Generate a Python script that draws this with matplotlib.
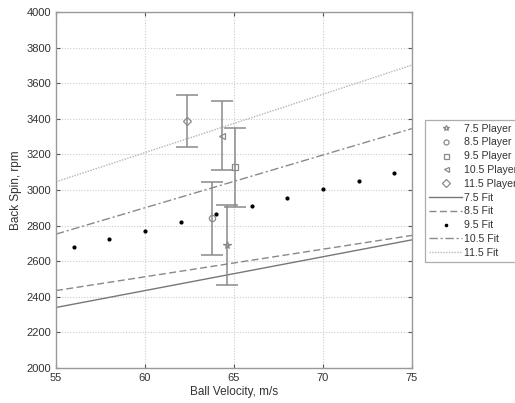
import numpy as np
import matplotlib.pyplot as plt

plt.rcParams["font.family"] = ["Liberation Sans", "DejaVu Sans"]

# player means with error bars (ball velocity m/s, back spin rpm, half error)
player_labels = ["7.5 Player", "8.5 Player", "9.5 Player", "10.5 Player", "11.5 Player"]
player_markers = ["*", "o", "s", "<", "D"]
player_vel = [64.62, 63.78, 65.04, 64.34, 62.34]
player_spin = [2690, 2840, 3127, 3305, 3388]
player_err = [225, 205, 220, 195, 145]

# fit lines, end points at 55 and 75 m/s
fit_x = [55, 75]
fit_7_5 = [2340, 2720]
fit_8_5 = [2435, 2745]
fit_10_5 = [2752, 3345]
fit_11_5 = [3046, 3702]

# 9.5 fit drawn as dots
fit95_x = [56, 58, 60, 62, 64, 66, 68, 70, 72, 74]
fit95_y = [2681, 2727, 2772, 2818, 2863, 2910, 2957, 3003, 3049, 3094]

fig = plt.figure(figsize=(5.15, 4.03), dpi=100)
ax = fig.add_axes([56 / 515, 1 - 368 / 403, 356 / 515, 356 / 403])

grey = "#8a8a8a"
handles = []
for lab, mk, x, y, e in zip(player_labels, player_markers, player_vel, player_spin, player_err):
    ax.errorbar(x, y, yerr=e, fmt="none", ecolor=grey, elinewidth=1.1,
                capsize=8, capthick=1.1, zorder=3)
    size = 4.5 if mk != "*" else 5.5
    h, = ax.plot(x, y, linestyle="none", marker=mk, markersize=size,
                 markerfacecolor="none", markeredgecolor=grey,
                 markeredgewidth=0.9, label=lab, zorder=4)
    handles.append(h)

h1, = ax.plot(fit_x, fit_7_5, color="#777777", lw=1.0, label="7.5 Fit")
h2, = ax.plot(fit_x, fit_8_5, color="#888888", lw=1.0, linestyle=(0, (5, 2.5)), label="8.5 Fit")
h3, = ax.plot(fit95_x, fit95_y, linestyle="none", marker="o", markersize=2.0,
              color="black", label="9.5 Fit")
h4, = ax.plot(fit_x, fit_10_5, color="#8a8a8a", lw=1.0,
              linestyle=(0, (6, 2, 1.5, 2)), label="10.5 Fit")
h5, = ax.plot(fit_x, fit_11_5, color="#b5b5b5", lw=1.0, linestyle=(0, (1, 1)), label="11.5 Fit")
handles += [h1, h2, h3, h4, h5]

ax.set_xlim(55, 75)
ax.set_ylim(2000, 4000)
ax.set_xticks(np.arange(55, 76, 5))
ax.set_yticks(np.arange(2000, 4001, 200))
ax.grid(True, color="#cccccc", linestyle=(0, (1, 1.5)), linewidth=0.8)
ax.tick_params(direction="in", length=3, labelsize=8, colors="#555555",
               labelcolor="#333333", top=True, right=True)
for sp in ax.spines.values():
    sp.set_color("#999999")
    sp.set_linewidth(1.0)

ax.set_xlabel("Ball Velocity, m/s", fontsize=8.5, color="#333333", labelpad=2)
ax.set_ylabel("Back Spin, rpm", fontsize=8.5, color="#333333", labelpad=3)

leg = fig.legend(handles=handles, loc="upper left",
                 bbox_to_anchor=(425 / 515, 1 - 120 / 403), fontsize=7.6,
                 frameon=True, fancybox=False, edgecolor="#999999",
                 handlelength=3.2, handletextpad=0.1, labelspacing=0.36,
                 borderpad=0.35, borderaxespad=0, markerscale=0.8)
leg.get_frame().set_linewidth(0.9)
for t in leg.get_texts():
    t.set_color("#333333")

fig.savefig("out.png", dpi=100)
